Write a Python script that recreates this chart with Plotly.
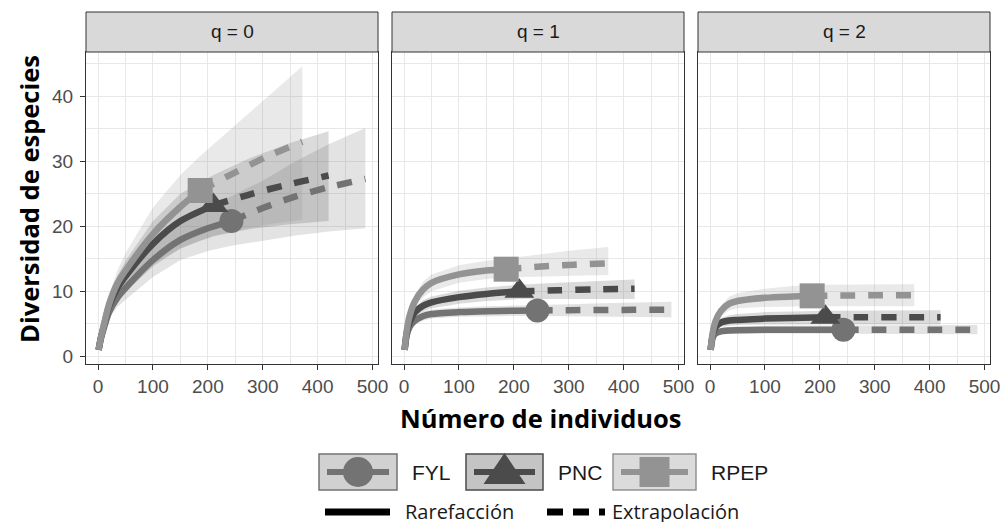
import plotly.graph_objects as go

# ---------------- data ----------------
sites = ["FYL", "PNC", "RPEP"]
q_labels = ["q = 0", "q = 1", "q = 2"]
x_ticks = [0, 100, 200, 300, 400, 500]
y_ticks = [0, 10, 20, 30, 40]

# sample sizes (rarefaction part ends at observed n, extrapolation to 2n)
FYL_rare_n = [1, 5, 10, 20, 35, 50, 100, 150, 200, 243]
FYL_ext_n = [243, 300, 360, 420, 487]
PNC_rare_n = [1, 5, 10, 20, 35, 50, 100, 150, 210]
PNC_ext_n = [210, 280, 350, 420]
RPEP_rare_n = [1, 5, 10, 20, 35, 50, 100, 150, 186]
RPEP_ext_n = [186, 250, 310, 372]

# q = 0
FYL_q0_rare = [1, 2.7, 4.2, 6.8, 9.0, 10.5, 14.8, 17.9, 19.7, 20.8]
FYL_q0_ext = [20.8, 22.8, 24.6, 26.0, 27.3]
FYL_q0_lo = [1, 2.3, 3.7, 5.9, 7.6, 8.7, 12.2, 14.8, 16.2, 17.0, 17.8, 18.6, 19.2, 19.7]
FYL_q0_hi = [1, 3.1, 4.7, 7.7, 10.4, 12.3, 17.4, 21.0, 23.2, 24.6, 27.0, 30.0, 32.6, 35.1]
PNC_q0_rare = [1, 2.8, 4.5, 7.7, 10.5, 12.3, 17.3, 20.8, 23.2]
PNC_q0_ext = [23.2, 25.0, 26.5, 27.8]
PNC_q0_lo = [1, 2.4, 3.9, 6.5, 8.6, 9.9, 13.8, 16.6, 18.5, 19.6, 20.3, 20.8]
PNC_q0_hi = [1, 3.2, 5.1, 8.9, 12.4, 14.7, 20.8, 25.0, 27.9, 30.6, 32.8, 34.6]
RPEP_q0_rare = [1, 2.8, 4.6, 8.0, 11.2, 13.2, 18.8, 23.0, 25.5]
RPEP_q0_ext = [25.5, 28.3, 30.8, 33.0]
RPEP_q0_lo = [1, 2.4, 3.9, 6.6, 9.0, 10.5, 14.2, 16.6, 17.8, 19.3, 20.3, 21.0]
RPEP_q0_hi = [1, 3.2, 5.4, 9.4, 13.2, 15.9, 22.9, 27.9, 30.8, 35.6, 40.0, 44.6]

# q = 1
FYL_q1_rare = [1, 3.3, 4.5, 5.5, 6.2, 6.5, 6.8, 6.95, 7.0, 7.05]
FYL_q1_ext = [7.05, 7.1, 7.12, 7.15, 7.18]
FYL_q1_lo = [1, 3.0, 4.0, 4.9, 5.5, 5.8, 6.1, 6.2, 6.2, 6.2, 6.15, 6.1, 6.05, 6.0]
FYL_q1_hi = [1, 3.6, 5.0, 6.1, 6.9, 7.2, 7.5, 7.7, 7.8, 7.9, 8.0, 8.15, 8.3, 8.4]
PNC_q1_rare = [1, 3.7, 5.2, 6.8, 7.8, 8.3, 9.1, 9.6, 10.0]
PNC_q1_ext = [10.0, 10.15, 10.3, 10.4]
PNC_q1_lo = [1, 3.4, 4.7, 6.0, 6.9, 7.4, 8.1, 8.5, 8.8, 8.8, 8.8, 8.8]
PNC_q1_hi = [1, 4.0, 5.7, 7.6, 8.7, 9.2, 10.1, 10.6, 11.0, 11.3, 11.6, 11.8]
RPEP_q1_rare = [1, 4.0, 6.2, 8.5, 10.3, 11.3, 12.6, 13.2, 13.4]
RPEP_q1_ext = [13.4, 13.8, 14.1, 14.3]
RPEP_q1_lo = [1, 3.6, 5.5, 7.5, 9.1, 10.0, 11.3, 11.9, 12.1, 12.3, 12.4, 12.5]
RPEP_q1_hi = [1, 4.4, 6.9, 9.5, 11.5, 12.6, 14.0, 14.7, 15.1, 15.7, 16.3, 16.8]

# q = 2
FYL_q2_rare = [1, 2.9, 3.5, 3.85, 3.98, 4.02, 4.07, 4.09, 4.1, 4.1]
FYL_q2_ext = [4.1, 4.1, 4.1, 4.1, 4.1]
FYL_q2_lo = [1, 2.6, 3.1, 3.4, 3.45, 3.5, 3.5, 3.5, 3.5, 3.5, 3.45, 3.4, 3.4, 3.4]
FYL_q2_hi = [1, 3.2, 3.9, 4.4, 4.55, 4.6, 4.7, 4.75, 4.8, 4.8, 4.8, 4.8, 4.8, 4.8]
PNC_q2_rare = [1, 3.4, 4.5, 5.2, 5.5, 5.6, 5.8, 5.9, 6.0]
PNC_q2_ext = [6.0, 6.0, 6.0, 6.0]
PNC_q2_lo = [1, 3.1, 4.0, 4.5, 4.7, 4.8, 4.9, 4.9, 4.9, 4.9, 4.9, 4.9]
PNC_q2_hi = [1, 3.7, 5.0, 5.9, 6.3, 6.5, 6.8, 6.9, 7.0, 7.05, 7.1, 7.1]
RPEP_q2_rare = [1, 3.7, 5.4, 7.0, 8.1, 8.5, 9.0, 9.2, 9.3]
RPEP_q2_ext = [9.3, 9.35, 9.4, 9.4]
RPEP_q2_lo = [1, 3.3, 4.8, 6.2, 7.1, 7.4, 7.6, 7.7, 7.7, 7.7, 7.7, 7.7]
RPEP_q2_hi = [1, 4.1, 6.0, 7.8, 9.2, 9.7, 10.4, 10.8, 11.0, 11.05, 11.1, 11.1]

# ---------------- styling ----------------
W, H = 1003, 526
colors = {"FYL": "#737373", "PNC": "#4b4b4b", "RPEP": "#939393"}
fills = {"FYL": "rgba(115,115,115,0.2)", "PNC": "rgba(75,75,75,0.2)", "RPEP": "rgba(147,147,147,0.2)"}
symbols = {"FYL": "circle", "PNC": "triangle-up", "RPEP": "square"}
msizes = {"FYL": 24, "PNC": 26, "RPEP": 25}

data = {
    "FYL": (FYL_rare_n, FYL_ext_n, [(FYL_q0_rare, FYL_q0_ext, FYL_q0_lo, FYL_q0_hi),
                                    (FYL_q1_rare, FYL_q1_ext, FYL_q1_lo, FYL_q1_hi),
                                    (FYL_q2_rare, FYL_q2_ext, FYL_q2_lo, FYL_q2_hi)]),
    "PNC": (PNC_rare_n, PNC_ext_n, [(PNC_q0_rare, PNC_q0_ext, PNC_q0_lo, PNC_q0_hi),
                                    (PNC_q1_rare, PNC_q1_ext, PNC_q1_lo, PNC_q1_hi),
                                    (PNC_q2_rare, PNC_q2_ext, PNC_q2_lo, PNC_q2_hi)]),
    "RPEP": (RPEP_rare_n, RPEP_ext_n, [(RPEP_q0_rare, RPEP_q0_ext, RPEP_q0_lo, RPEP_q0_hi),
                                       (RPEP_q1_rare, RPEP_q1_ext, RPEP_q1_lo, RPEP_q1_hi),
                                       (RPEP_q2_rare, RPEP_q2_ext, RPEP_q2_lo, RPEP_q2_hi)]),
}


def PX(px):
    return px / W


def PY(py):
    return 1 - py / H


x_domains = [[PX(86), PX(378)], [PX(392), PX(684)], [PX(698), PX(990)]]
y_domain = [PY(364), PY(52)]
strip_y = [PY(52), PY(12)]

fig = go.Figure()

for p in range(3):
    xa = "x" if p == 0 else f"x{p + 1}"
    ya = "y" if p == 0 else f"y{p + 1}"
    # ribbons
    for s in sites:
        rn, en, qs = data[s]
        _, _, lo, hi = qs[p]
        bn = rn + en[1:]
        fig.add_trace(go.Scatter(x=bn + bn[::-1], y=lo + hi[::-1], fill="toself",
                                 fillcolor=fills[s], line=dict(width=0), mode="lines",
                                 hoverinfo="skip", showlegend=False, xaxis=xa, yaxis=ya))
    # lines
    for s in sites:
        rn, en, qs = data[s]
        rare, ext, _, _ = qs[p]
        fig.add_trace(go.Scatter(x=rn, y=rare, mode="lines",
                                 line=dict(color=colors[s], width=6.5, shape="spline", smoothing=0.8),
                                 showlegend=False, xaxis=xa, yaxis=ya))
        fig.add_trace(go.Scatter(x=en, y=ext, mode="lines",
                                 line=dict(color=colors[s], width=6.5, dash="15px,13px", shape="spline", smoothing=0.8),
                                 showlegend=False, xaxis=xa, yaxis=ya))
    # observed points
    for s in sites:
        rn, en, qs = data[s]
        rare = qs[p][0]
        fig.add_trace(go.Scatter(x=[rn[-1]], y=[rare[-1]], mode="markers",
                                 marker=dict(color=colors[s], size=msizes[s], symbol=symbols[s], line=dict(width=0)),
                                 showlegend=False, xaxis=xa, yaxis=ya))

tickfont = dict(family="Liberation Sans", size=19, color="#4d4d4d")
grid = "#e8e8e8"
layout = dict(
    width=W, height=H, margin=dict(l=0, r=0, t=0, b=0), template="none",
    paper_bgcolor="white", plot_bgcolor="white", showlegend=False,
)
for p in range(3):
    xk = "xaxis" if p == 0 else f"xaxis{p + 1}"
    yk = "yaxis" if p == 0 else f"yaxis{p + 1}"
    ya = "y" if p == 0 else f"y{p + 1}"
    xa = "x" if p == 0 else f"x{p + 1}"
    layout[xk] = dict(domain=x_domains[p], anchor=ya, range=[-22, 510], tickvals=x_ticks,
                      ticks="outside", ticklen=5, tickwidth=1, tickcolor="#333333",
                      showline=True, mirror=True, linecolor="#333333", linewidth=1,
                      showgrid=True, gridcolor=grid, gridwidth=1.3, zeroline=False,
                      minor=dict(tickvals=[50, 150, 250, 350, 450], showgrid=True, gridcolor=grid,
                                 gridwidth=0.7, ticks=""),
                      tickfont=tickfont, automargin=False, fixedrange=True)
    layout[yk] = dict(domain=y_domain, anchor=xa, range=[-1.18, 46.8], tickvals=y_ticks,
                      ticks="outside" if p == 0 else "", ticklen=5, tickwidth=1, tickcolor="#333333",
                      showticklabels=(p == 0), ticklabelstandoff=3,
                      showline=True, mirror=True, linecolor="#333333", linewidth=1,
                      showgrid=True, gridcolor=grid, gridwidth=1.3, zeroline=False,
                      minor=dict(tickvals=[5, 15, 25, 35, 45], showgrid=True, gridcolor=grid,
                                 gridwidth=0.7, ticks=""),
                      tickfont=tickfont, automargin=False, fixedrange=True)
fig.update_layout(**layout)

shapes = []
annotations = []
# strips
for p in range(3):
    shapes.append(dict(type="rect", xref="paper", yref="paper", x0=x_domains[p][0], x1=x_domains[p][1],
                       y0=strip_y[0], y1=strip_y[1], fillcolor="#d9d9d9",
                       line=dict(color="#333333", width=1), layer="above"))
    annotations.append(dict(text=q_labels[p], xref="paper", yref="paper",
                            x=(x_domains[p][0] + x_domains[p][1]) / 2, y=(strip_y[0] + strip_y[1]) / 2,
                            showarrow=False, xanchor="center", yanchor="middle",
                            font=dict(family="Liberation Sans", size=19, color="#1a1a1a")))

# axis titles
annotations.append(dict(text="<b>Diversidad de especies</b>", xref="paper", yref="paper", x=PX(29), y=PY(199),
                        textangle=-90, showarrow=False, xanchor="center", yanchor="middle",
                        font=dict(family="Open Sans", size=25.5, color="black")))
annotations.append(dict(text="<b>Número de individuos</b>", xref="paper", yref="paper", x=PX(541), y=PY(418),
                        showarrow=False, xanchor="center", yanchor="middle",
                        font=dict(family="Open Sans", size=25.5, color="black")))

# legend row 1
row1 = 472
boxes = {"FYL": (319, 397, 410), "PNC": (466, 543, 556), "RPEP": (613, 696, 709)}
for s in sites:
    bx0, bx1, tx = boxes[s]
    cx = (bx0 + bx1) / 2
    shapes.append(dict(type="rect", xref="paper", yref="paper", x0=PX(bx0), x1=PX(bx1), y0=PY(490), y1=PY(454),
                       fillcolor=fills[s].replace("0.2)", "0.33)"), line=dict(color=colors[s], width=1.5)))
    shapes.append(dict(type="line", xref="paper", yref="paper", x0=PX(bx0 + 8), x1=PX(bx1 - 8),
                       y0=PY(row1), y1=PY(row1), line=dict(color=colors[s], width=6)))
    if s == "FYL":
        shapes.append(dict(type="circle", xref="paper", yref="paper", x0=PX(cx - 15), x1=PX(cx + 15),
                           y0=PY(row1 + 15), y1=PY(row1 - 15), fillcolor=colors[s], line=dict(width=0)))
    elif s == "PNC":
        path = f"M {PX(cx)} {PY(453)} L {PX(cx + 21)} {PY(484)} L {PX(cx - 21)} {PY(484)} Z"
        shapes.append(dict(type="path", xref="paper", yref="paper", path=path,
                           fillcolor=colors[s], line=dict(width=0)))
    else:
        shapes.append(dict(type="rect", xref="paper", yref="paper", x0=PX(cx - 15), x1=PX(cx + 15),
                           y0=PY(row1 + 15), y1=PY(row1 - 15), fillcolor=colors[s], line=dict(width=0)))
    annotations.append(dict(text=s, xref="paper", yref="paper", x=PX(tx), y=PY(row1), showarrow=False,
                            xanchor="left", yanchor="middle",
                            font=dict(family="Liberation Sans", size=21, color="#1a1a1a")))

# legend row 2
row2 = 512
shapes.append(dict(type="line", xref="paper", yref="paper", x0=PX(325), x1=PX(390), y0=PY(row2), y1=PY(row2),
                   line=dict(color="black", width=7)))
shapes.append(dict(type="line", xref="paper", yref="paper", x0=PX(547), x1=PX(605), y0=PY(row2), y1=PY(row2),
                   line=dict(color="black", width=7, dash="16px,10px")))
annotations.append(dict(text="Rarefacción", xref="paper", yref="paper", x=PX(403), y=PY(row2 - 1), showarrow=False,
                        xanchor="left", yanchor="middle", height=22,
                        font=dict(family="Open Sans", size=20, color="#1a1a1a")))
annotations.append(dict(text="Extrapolación", xref="paper", yref="paper", x=PX(610), y=PY(row2 - 1), showarrow=False,
                        xanchor="left", yanchor="middle", height=22,
                        font=dict(family="Open Sans", size=20, color="#1a1a1a")))

fig.update_layout(shapes=shapes, annotations=annotations)
fig.write_html("out.html", config={"displayModeBar": False},
               post_script="document.body.style.margin='0';document.body.style.overflow='hidden';")
